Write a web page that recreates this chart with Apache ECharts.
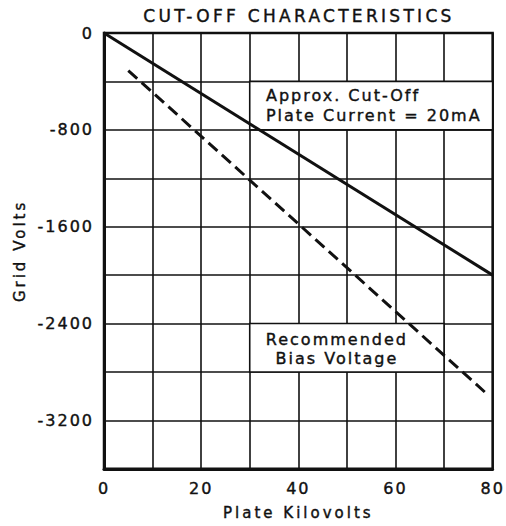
<!DOCTYPE html>
<html><head><meta charset="utf-8">
<script src="https://cdn.jsdelivr.net/npm/echarts@6/dist/echarts.min.js"></script>
<style>
html,body{margin:0;padding:0;background:#fff;}
#main{width:506px;height:526px;}
#main text{letter-spacing:2px;}
#main text[style*="17px"]{letter-spacing:3.3px;}
#main text[style*="15px"]{letter-spacing:3px;}
</style></head><body><div id="main"></div>
<script>
// Data
const xTickLabels = [0, 20, 40, 60, 80];
const yTickLabels = [0, -800, -1600, -2400, -3200];
const cutoffKv = [0, 80];
const cutoffVolts = [0, -2000];
const biasKv = [5, 78.5];
const biasVolts = [-310, -2970];
const cutoffBox = [[30, -400], [80, -800]];
const biasBox = [[30, -2400], [70, -2800]];

const FONT = 'DejaVu Sans';
const INK = '#111';
const thick = {textBorderColor: INK, textBorderWidth: 0.4};

const chart = echarts.init(document.getElementById('main'), null, {renderer: 'svg'});
chart.setOption({
  backgroundColor: '#fff',
  animation: false,
  title: {
    text: 'CUT-OFF CHARACTERISTICS',
    left: 299, top: 7, padding: 0, textAlign: 'center',
    textStyle: Object.assign({fontFamily: FONT, fontSize: 17, fontWeight: 'normal', color: INK}, thick)
  },
  grid: {left: 104, right: 12, top: 33, bottom: 55, show: true, borderColor: INK, borderWidth: 2.5, backgroundColor: 'transparent'},
  xAxis: {
    type: 'value', min: 0, max: 80, interval: 10,
    name: 'Plate Kilovolts', nameLocation: 'middle', nameGap: 37,
    nameTextStyle: Object.assign({fontFamily: FONT, fontSize: 15, color: INK}, thick),
    axisLine: {show: true, onZero: false, lineStyle: {color: INK, width: 3}},
    axisTick: {show: false},
    axisLabel: Object.assign({
      fontFamily: FONT, fontSize: 16, color: INK, margin: 12,
      formatter: v => xTickLabels.includes(v) ? String(v) : ''
    }, thick),
    splitLine: {show: true, lineStyle: {color: INK, width: 1.6}}
  },
  yAxis: {
    type: 'value', min: -3600, max: 0, interval: 400,
    name: 'Grid Volts', nameLocation: 'middle', nameGap: 77, nameRotate: 90,
    nameTextStyle: Object.assign({fontFamily: FONT, fontSize: 15, color: INK}, thick),
    axisLine: {show: true, onZero: false, lineStyle: {color: INK, width: 3}},
    axisTick: {show: false},
    axisLabel: Object.assign({
      fontFamily: FONT, fontSize: 16, color: INK, margin: 10,
      formatter: v => yTickLabels.includes(v) ? String(v) : ''
    }, thick),
    splitLine: {show: true, lineStyle: {color: INK, width: 1.6}}
  },
  series: [
    {
      type: 'line', name: 'Approx. Cut-Off', symbol: 'none', z: 3,
      data: cutoffKv.map((x, i) => [x, cutoffVolts[i]]),
      lineStyle: {color: INK, width: 3},
      markArea: {
        silent: true,
        itemStyle: {color: '#fff', opacity: 1, borderColor: INK, borderWidth: 1.6},
        data: [
          [{coord: cutoffBox[0], label: Object.assign({
              show: true, position: 'insideLeft', distance: 17,
              formatter: 'Approx. Cut-Off\nPlate Current = 20mA',
              fontFamily: FONT, fontSize: 16, color: INK, lineHeight: 20, align: 'left'
            }, thick)}, {coord: cutoffBox[1]}],
          [{coord: biasBox[0], label: Object.assign({
              show: true, position: 'inside', offset: [-10, 1],
              formatter: 'Recommended\nBias Voltage',
              fontFamily: FONT, fontSize: 16, color: INK, lineHeight: 19, align: 'center'
            }, thick)}, {coord: biasBox[1]}]
        ]
      }
    },
    {
      type: 'line', name: 'Recommended Bias Voltage', symbol: 'none', z: 3,
      data: biasKv.map((x, i) => [x, biasVolts[i]]),
      lineStyle: {color: INK, width: 3, type: [12, 6]}
    }
  ]
});
</script></body></html>
